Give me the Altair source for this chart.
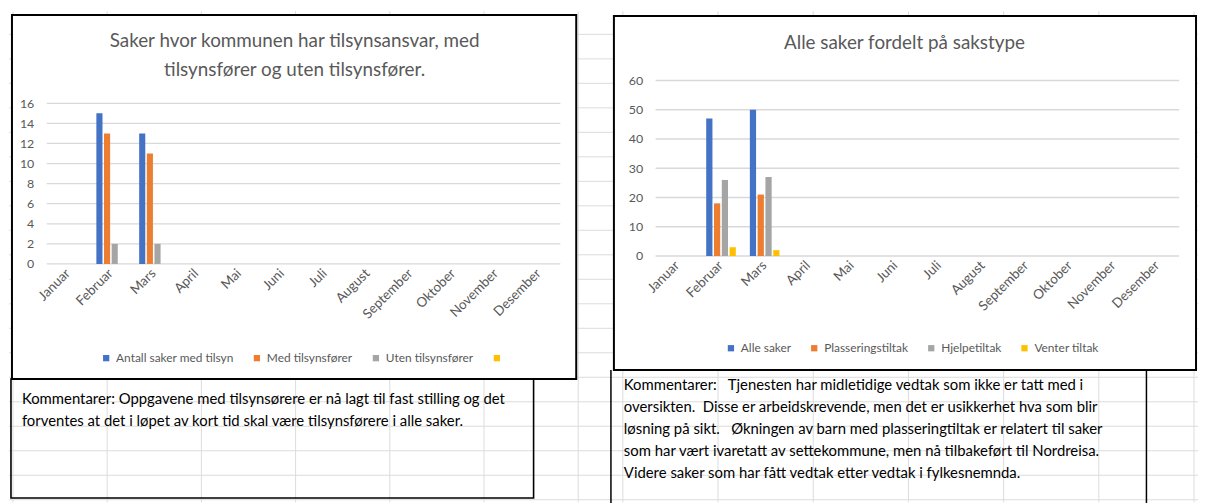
import altair as alt
import pandas as pd

FONT = "Lato"
GRAY = "#595959"
GRID = "#D9D9D9"
SHEET = "#DCDCDC"
NB = "\u00a0"

months = ["Januar", "Februar", "Mars", "April", "Mai", "Juni", "Juli",
          "August", "September", "Oktober", "November", "Desember"]
colors = ["#4472C4", "#ED7D31", "#A5A5A5", "#FFC000"]

# ---- left chart data ----
left_title = ["Saker hvor kommunen har tilsynsansvar, med",
              "tilsynsfører og uten tilsynsfører."]
left_series = ["Antall saker med tilsyn", "Med tilsynsfører", "Uten tilsynsfører", " "]
left_antall = [None, 15, 13, None, None, None, None, None, None, None, None, None]
left_med = [None, 13, 11, None, None, None, None, None, None, None, None, None]
left_uten = [None, 2, 2, None, None, None, None, None, None, None, None, None]
left_ticks = [0, 2, 4, 6, 8, 10, 12, 14, 16]
left_comment = [
    "Kommentarer: Oppgavene med tilsynsørere er nå lagt til fast stilling og det",
    "forventes at det i løpet av kort tid skal være tilsynsførere i alle saker.",
]

# ---- right chart data ----
right_title = ["Alle saker fordelt på sakstype"]
right_series = ["Alle saker", "Plasseringstiltak", "Hjelpetiltak", "Venter tiltak"]
right_alle = [None, 47, 50, None, None, None, None, None, None, None, None, None]
right_plass = [None, 18, 21, None, None, None, None, None, None, None, None, None]
right_hjelp = [None, 26, 27, None, None, None, None, None, None, None, None, None]
right_venter = [None, 3, 2, None, None, None, None, None, None, None, None, None]
right_ticks = [0, 10, 20, 30, 40, 50, 60]
right_comment = [
    "Kommentarer:   Tjenesten har midletidige vedtak som ikke er tatt med i",
    "oversikten.  Disse er arbeidskrevende, men det er usikkerhet hva som blir",
    "løsning på sikt.   Økningen av barn med plasseringtiltak er relatert til saker",
    "som har vært ivaretatt av settekommune, men nå tilbakeført til Nordreisa.",
    "Videre saker som har fått vedtak etter vedtak i fylkesnemnda.",
]

# ---- layout (pixels, page coordinates of the two plot areas) ----
LX, LY, LW, LH = 46, 77.7, 518, 185   # left view (y range starts 23 px lower)
RX, RW, RH = 660, 528, 177            # right view, same top as left
SHEET_COLS = [12, 107, 202, 297, 392, 487, 582, 627, 723, 819, 915, 1011, 1107, 1203]
SHEET_ROW0, SHEET_ROW_STEP = 31.2, 24.7


def keep_spaces(s):
    return s.replace("  ", " " + NB)


def long_frame(series_names, columns, sfield):
    rows = []
    for name, vals in zip(series_names, columns):
        for m, v in zip(months, vals):
            if v is not None:
                rows.append({"month": m, sfield: name, "value": v})
    return pd.DataFrame(rows)


def one_row():
    return alt.Data(values=[{"k": 0}])


def rect(x1, x2, y1, y2, sw=2, fill_op=0.0):
    return alt.Chart(one_row()).mark_rect(
        fill="white", fillOpacity=fill_op, stroke="black", strokeWidth=sw
    ).encode(x=alt.value(x1), x2=alt.value(x2), y=alt.value(y1), y2=alt.value(y2))


def vline(x, y1, y2, sw=1.5, color="black"):
    return alt.Chart(one_row()).mark_rule(color=color, strokeWidth=sw).encode(
        x=alt.value(x), y=alt.value(y1), y2=alt.value(y2))


def hline(y, x1, x2, sw=1, color="black"):
    return alt.Chart(one_row()).mark_rule(color=color, strokeWidth=sw).encode(
        y=alt.value(y), x=alt.value(x1), x2=alt.value(x2))


def text(s, x, y, size, color, align="center"):
    return alt.Chart(one_row()).mark_text(
        text=keep_spaces(s), font=FONT, fontSize=size, color=color, align=align,
        baseline="middle"
    ).encode(x=alt.value(x), y=alt.value(y))


def yscale(ticks, height, top):
    return alt.Scale(domain=[ticks[0], ticks[-1]], nice=False, range=[height, top])


def yaxis(ticks):
    return alt.Axis(title=None, values=ticks, grid=False, zindex=1,
                    domain=False, ticks=False, labelPadding=13,
                    labelFontSize=12.5, labelColor=GRAY, labelFont=FONT)


def gridlines(ticks, height, top):
    return alt.Chart(pd.DataFrame({"value": ticks})).mark_rule(
        color=GRID, strokeWidth=1.3
    ).encode(y=alt.Y("value:Q", scale=yscale(ticks, height, top), axis=yaxis(ticks)))


def bars(df, sfield, series, ticks, height, top, legend_x, legend_y, col_pad):
    return alt.Chart(df).mark_bar().encode(
        x=alt.X("month:N", sort=months,
                scale=alt.Scale(domain=months, paddingInner=0, paddingOuter=0),
                axis=alt.Axis(title=None, labelAngle=-45, labelAlign="right",
                              labelBaseline="middle", labelPadding=7, zindex=1,
                              ticks=False, domain=False, grid=False,
                              labelFontSize=13.5, labelColor=GRAY, labelFont=FONT)),
        xOffset=alt.XOffset(f"{sfield}:N",
                            scale=alt.Scale(domain=series, paddingInner=0.2, paddingOuter=0.9)),
        y=alt.Y("value:Q", scale=yscale(ticks, height, top), axis=yaxis(ticks)),
        color=alt.Color(f"{sfield}:N",
                        scale=alt.Scale(domain=series, range=colors),
                        legend=alt.Legend(title=None, orient="none", legendX=legend_x,
                                          legendY=legend_y, direction="horizontal",
                                          columns=4, symbolType="square", symbolSize=40,
                                          symbolStrokeWidth=0, labelFontSize=12,
                                          labelColor=GRAY, labelFont=FONT, zindex=1,
                                          columnPadding=col_pad, labelOffset=4)),
    )


# ---------------- spreadsheet background (drawn in the left panel) ----------------
sheet = []
for cx in SHEET_COLS:
    sheet.append(vline(cx - LX, 8 - LY, 503 - LY, sw=1, color=SHEET))
ry = SHEET_ROW0
while ry < 503:
    sheet.append(hline(ry - LY, 8 - LX, 1207 - LX, sw=1, color=SHEET))
    ry += SHEET_ROW_STEP

# ---------------- left panel ----------------
left_df = long_frame(left_series[:3], [left_antall, left_med, left_uten], "serie_l")
left_layers = sheet + [
    rect(-35, 534, -66, 301, fill_op=1.0),
    rect(-36, 491, 301, 421, sw=1.6),
    gridlines(left_ticks, LH, 23),
    bars(left_df, "serie_l", left_series, left_ticks, LH, 23, 54, 274, 17),
]
for i, line in enumerate(left_title):
    left_layers.append(text(line, 250, -39.5 + 29 * i, 19, GRAY))
for i, line in enumerate(left_comment):
    left_layers.append(text(line, -25, 321.5 + 22 * i, 15, "black", align="left"))
left = alt.layer(*left_layers).properties(width=LW, height=LH)

# ---------------- right panel ----------------
right_df = long_frame(right_series, [right_alle, right_plass, right_hjelp, right_venter], "serie_r")
right_layers = [
    rect(-42, 545, -65, 292, fill_op=1.0),
    vline(-45, 292, 426),
    vline(495, 292, 426),
    gridlines(right_ticks, RH, 0),
    bars(right_df, "serie_r", right_series, right_ticks, RH, 0, 70, 264, 17),
]
for i, line in enumerate(right_title):
    right_layers.append(text(line, 251, -37.5, 19, GRAY))
for i, line in enumerate(right_comment):
    right_layers.append(text(line, -32, 307.5 + 22.2 * i, 15, "black", align="left"))
right = alt.layer(*right_layers).properties(width=RW, height=RH)

chart = alt.hconcat(left, right, spacing=RX - LX - LW, bounds="flush").resolve_scale(
    color="independent", xOffset="independent"
).resolve_legend(color="independent").properties(
    padding={"left": 0, "top": 0, "right": 0, "bottom": 0}
).configure_view(stroke=None)

chart.save("out.html", embed_options={"renderer": "svg", "actions": False})
